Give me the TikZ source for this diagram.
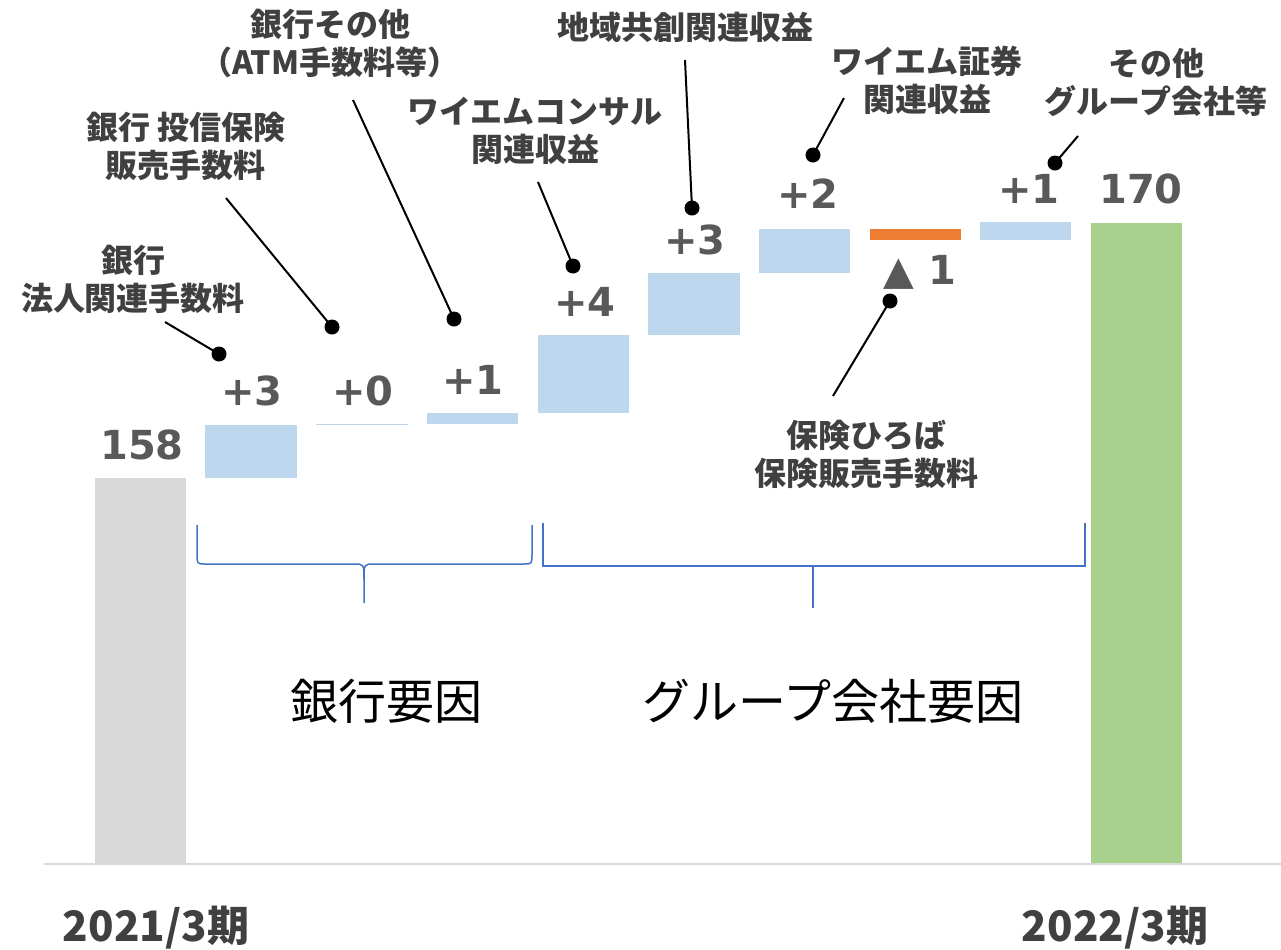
\documentclass[tikz,border=0pt]{standalone}
\usepackage{fontspec}
\newfontfamily\jp{Noto Sans CJK JP}
\newfontfamily\num{DejaVu Sans}
\definecolor{barblue}{HTML}{BDD7EE}
\definecolor{bargray}{HTML}{D9D9D9}
\definecolor{barorange}{HTML}{ED7D31}
\definecolor{bargreen}{HTML}{A9D18E}
\definecolor{valgray}{HTML}{595959}
\definecolor{lblgray}{HTML}{404040}
\definecolor{braceblue}{HTML}{4472C4}
\definecolor{axisgray}{HTML}{D9D9D9}
\tikzset{
  lbl/.style={font=\jp\bfseries\fontsize{16}{19}\selectfont, text=lblgray, align=center, inner sep=0pt},
  val/.style={font=\num\bfseries\fontsize{20}{24}\selectfont, text=valgray, inner sep=0pt},
  yearlbl/.style={font=\jp\bfseries\fontsize{21}{25}\selectfont, text=lblgray, inner sep=0pt},
  grouplbl/.style={font=\jp\fontsize{24}{28}\selectfont, text=black, inner sep=0pt},
  leader/.style={line width=1pt, black},
  dotmark/.style={circle, fill=black, inner sep=0pt, minimum size=7.5pt},
  bracestyle/.style={line width=0.75pt, braceblue},
}
\begin{document}
\begin{tikzpicture}[x=0.5pt,y=-0.5pt]
\useasboundingbox (0,0) rectangle (1281,949);
% bars
\fill[bargray] (95,478) rectangle (186,864);
\fill[barblue] (205,425) rectangle (297,478);
\fill[barblue] (316,423.5) rectangle (408,424.5);
\fill[barblue] (427,413) rectangle (518,424);
\fill[barblue] (538,335) rectangle (629,413);
\fill[barblue] (648,273) rectangle (740,335);
\fill[barblue] (759,229) rectangle (850,273);
\fill[barorange] (870,229) rectangle (961,240);
\fill[barblue] (980,222) rectangle (1071,240);
\fill[bargreen] (1091,223) rectangle (1182,864);
% axis
\draw[axisgray, line width=1pt] (44,864) -- (1281,864);
% value labels
\node[val] (v0) at (142,445) {158};
\node[val] (v1) at (252,391) {+3};
\node[val] (v2) at (363,391) {+0};
\node[val] (v3) at (473,380) {+1};
\node[val] (v4) at (585,302) {+4};
\node[val] (v5) at (695,240) {+3};
\node[val] (v6) at (808,194) {+2};
\node[val] (v7) at (920,272) {▲ 1};
\node[val] (v8) at (1029,189) {+1};
\node[val] (v9) at (1141,189) {170};
% category labels
\node[lbl] (la) at (133,279.5) {銀行\\法人関連手数料};
\node[lbl] (lb) at (186,146) {銀行 投信保険\\販売手数料};
\node[lbl] (lc) at (330,43) {銀行その他\\（ATM手数料等）};
\node[lbl] (ld) at (535,131) {ワイエムコンサル\\関連収益};
\node[lbl] (le) at (685,27) {地域共創関連収益};
\node[lbl] (lf) at (927,80) {ワイエム証券\\関連収益};
\node[lbl] (lg) at (1156,82) {その他\\グループ会社等};
\node[lbl] (lh) at (866,454) {保険ひろば\\保険販売手数料};
% leader ends and dots
\coordinate (ta) at (165,322);
\coordinate (tb) at (226,198);
\coordinate (tc) at (353,100);
\coordinate (td) at (538,182);
\coordinate (te) at (685,60);
\coordinate (tf) at (844,98);
\coordinate (tg) at (1078,136);
\coordinate (th) at (833,396);
\node[dotmark] (da) at (219,354) {};
\node[dotmark] (db) at (332,327) {};
\node[dotmark] (dc) at (454,319) {};
\node[dotmark] (dd) at (573,266) {};
\node[dotmark] (de) at (692,208) {};
\node[dotmark] (df) at (813,155) {};
\node[dotmark] (dg) at (1055,163) {};
\node[dotmark] (dh) at (890,301) {};
\foreach \s in {a,b,c,d,e,f,g,h} \draw[leader] (t\s) -- (d\s.center);
% braces
\coordinate (bl1) at (197,525);
\coordinate (bl2) at (532,525);
\coordinate (blm) at (364,603);
\draw[bracestyle] (bl1) -- (197,554) .. controls (197,564) .. (206,564) -- (354,564) .. controls (364,564) .. (364,580) -- (blm);
\draw[bracestyle] (bl2) -- (532,554) .. controls (532,564) .. (523,564) -- (374,564) .. controls (364,564) .. (364,580);
\coordinate (br1) at (543,523);
\coordinate (br2) at (1085,523);
\coordinate (brm) at (813,608);
\draw[bracestyle] (br1) -- (543,566) -- (1085,566) -- (br2);
\draw[bracestyle] (813,566) -- (brm);
% group labels
\node[grouplbl] (g1) at (386,701) {銀行要因};
\node[grouplbl] (g2) at (833,701) {グループ会社要因};
% year labels
\node[yearlbl] (y1) at (156,928) {2021/3期};
\node[yearlbl] (y2) at (1115,928) {2022/3期};
\end{tikzpicture}
\end{document}
